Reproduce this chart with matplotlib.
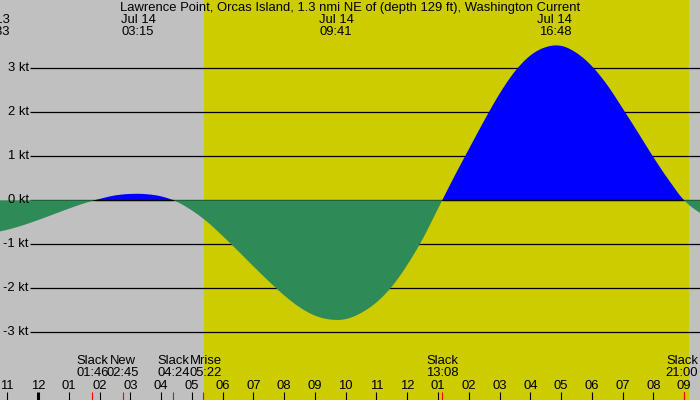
import matplotlib
matplotlib.use("Agg")
import matplotlib.pyplot as plt
import numpy as np
from matplotlib.transforms import offset_copy

# ---------------- data ----------------
title = "Lawrence Point, Orcas Island, 1.3 nmi NE of (depth 129 ft), Washington Current"
# hours relative to Jul 14 00:00, half-hourly readings of current speed (kt)
hours = np.arange(-2.0, 22.01, 0.5)
speed = [-0.78, -0.74, -0.67, -0.57, -0.45, -0.32, -0.19, -0.07, 0.03, 0.11,
         0.145, 0.14, 0.09, -0.03, -0.23, -0.49, -0.81, -1.15, -1.50, -1.84,
         -2.16, -2.43, -2.62, -2.71, -2.70, -2.56, -2.32, -1.96, -1.47, -0.88,
         -0.19, 0.50, 1.16, 1.81, 2.42, 2.93, 3.29, 3.48, 3.51, 3.35,
         3.05, 2.62, 2.09, 1.54, 0.98, 0.46, 0.00, -0.28, -0.47]

extreme_times = [3.25, 9.683, 16.8]
extreme_dates = ["Jul 14", "Jul 14", "Jul 14"]
extreme_clock = ["03:15", "09:41", "16:48"]
prev_date, prev_clock = "Jul 13", "21:33"

event_times = [1.767, 2.75, 4.4, 5.367, 13.133, 21.0]
event_names = ["Slack", "New", "Slack", "Mrise", "Slack", "Slack"]
event_clock = ["01:46", "02:45", "04:24", "05:22", "13:08", "21:00"]
event_shift_px = [0, 0, 0, 2.6, 0, -2.3]

sunrise, sunset = 5.38, 21.17
kt_ticks = [-3, -2, -1, 0, 1, 2, 3]
hour_ticks = np.arange(-1, 22)

# ---------------- style ----------------
GRAY = "#C0C0C0"
YELLOW = "#CCCC00"
GREEN = "#2E8B57"
BLUE = "#0000FF"
FONT = "Liberation Sans"
FS = 9.4

W, H = 700, 400
px_per_hr = 30.77
x0_px = 38.0
zero_px = 200.3
px_per_kt = 44.0


def catmull_rom(x, y, n=20):
    """Smooth curve through the read points (for drawing only)."""
    x = np.asarray(x, float)
    y = np.asarray(y, float)
    yp = np.concatenate([[2 * y[0] - y[1]], y, [2 * y[-1] - y[-2]]])
    xs, ys = [], []
    for i in range(len(x) - 1):
        p0, p1, p2, p3 = yp[i], yp[i + 1], yp[i + 2], yp[i + 3]
        m1 = (p2 - p0) / 2
        m2 = (p3 - p1) / 2
        s = np.linspace(0, 1, n, endpoint=False)
        h00 = 2 * s**3 - 3 * s**2 + 1
        h10 = s**3 - 2 * s**2 + s
        h01 = -2 * s**3 + 3 * s**2
        h11 = s**3 - s**2
        ys.append(h00 * p1 + h10 * m1 + h01 * p2 + h11 * m2)
        xs.append(x[i] + s * (x[i + 1] - x[i]))
    xs.append([x[-1]])
    ys.append([y[-1]])
    return np.concatenate(xs), np.concatenate(ys)


fig = plt.figure(figsize=(7, 4), dpi=100)
ax = fig.add_axes([0, 0, 1, 1])
ax.set_xlim(-x0_px / px_per_hr, (W - x0_px) / px_per_hr)
ax.set_ylim(-(H - zero_px) / px_per_kt, zero_px / px_per_kt)
ax.axis("off")
fig.patch.set_facecolor(GRAY)
ax.add_patch(plt.Rectangle((0, 0), 1, 1, transform=ax.transAxes, color=GRAY, zorder=0))

xt = ax.get_xaxis_transform()  # x data, y axes fraction
yt = ax.get_yaxis_transform()  # x axes fraction, y data

# daylight
ax.axvspan(sunrise, sunset, color=YELLOW, zorder=0.5, lw=0)

# gridlines
for k in kt_ticks:
    ax.plot([30 / W, 1], [k, k], transform=yt, color="black", lw=0.9, zorder=1,
            solid_capstyle="butt")
    ax.text(28.5 / W, k, f"{k} kt", transform=yt, ha="right", va="center",
            fontsize=FS, family=FONT, color="black", zorder=6)

# current fills
t, v = catmull_rom(hours, speed)
ax.fill_between(t, 0, v, where=v >= 0, interpolate=True, color=BLUE, lw=0, zorder=2)
ax.fill_between(t, 0, v, where=v <= 0, interpolate=True, color=GREEN, lw=0, zorder=2)
# zero line visible under flood only
zl = np.where(v > 0, 0.0, np.nan)
ax.plot(t, zl, color="black", lw=0.9, zorder=3, solid_capstyle="butt")

# title and extremes labels
ax.text(0.5, 1 - 7.5 / H, title, transform=ax.transAxes, ha="center", va="center",
        fontsize=FS, family=FONT, zorder=6)
for tm, d, c in zip(extreme_times, extreme_dates, extreme_clock):
    ax.text(tm, 1 - 20 / H, d, transform=xt, ha="center", va="center", fontsize=FS,
            family=FONT, zorder=6)
    ax.text(tm, 1 - 32 / H, c, transform=xt, ha="center", va="center", fontsize=FS,
            family=FONT, zorder=6)
ax.text(9.5 / W, 1 - 20 / H, prev_date, transform=ax.transAxes, ha="right", va="center",
        fontsize=FS, family=FONT, zorder=6)
ax.text(9.5 / W, 1 - 32 / H, prev_clock, transform=ax.transAxes, ha="right", va="center",
        fontsize=FS, family=FONT, zorder=6)

# hour ticks and labels
for h in hour_ticks:
    lw = 2.2 if h % 24 == 0 else 0.8
    ax.plot([h, h], [0, 8 / H], transform=xt, color="black", lw=lw, zorder=5,
            solid_capstyle="butt")
    lab = h % 12
    lab = 12 if lab == 0 else lab
    ax.text(h, 1 - 386 / H, f"{lab:02d}", transform=xt, ha="center", va="center",
            fontsize=FS, family=FONT, zorder=6)

# events
for tm, n, c, sh in zip(event_times, event_names, event_clock, event_shift_px):
    ax.plot([tm, tm], [0, 8 / H], transform=xt, color="red", lw=0.8, zorder=5.5,
            solid_capstyle="butt")
    tr = offset_copy(xt, fig=fig, x=sh, y=0, units="dots")
    ax.text(tm, 1 - 361 / H, n, transform=tr, ha="center", va="center", fontsize=FS,
            family=FONT, zorder=6)
    ax.text(tm, 1 - 373 / H, c, transform=tr, ha="center", va="center", fontsize=FS,
            family=FONT, zorder=6)

fig.savefig("out.png", dpi=100, facecolor=GRAY)
